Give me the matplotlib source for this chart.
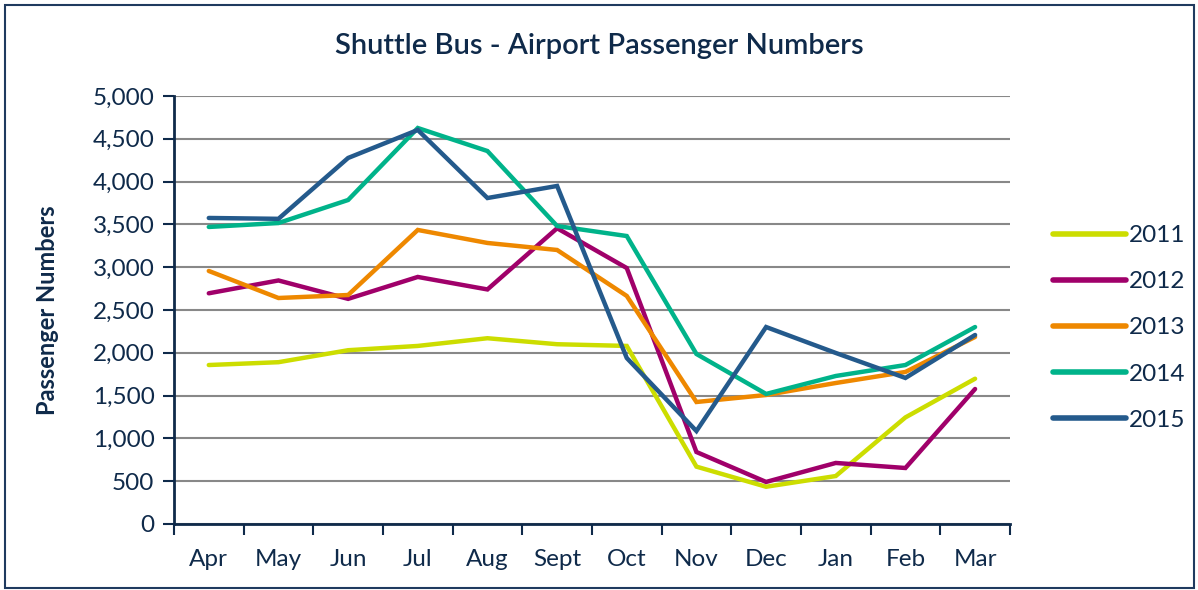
import matplotlib
matplotlib.use("Agg")
import matplotlib.pyplot as plt
from matplotlib.patches import Rectangle
from matplotlib.ticker import FuncFormatter, MultipleLocator

months = ["Apr", "May", "Jun", "Jul", "Aug", "Sept", "Oct", "Nov", "Dec", "Jan", "Feb", "Mar"]
years = ["2011", "2012", "2013", "2014", "2015"]
s2011 = [1857, 1890, 2030, 2080, 2170, 2100, 2080, 670, 435, 560, 1245, 1697]
s2012 = [2695, 2845, 2630, 2886, 2740, 3455, 2990, 841, 491, 713, 654, 1577]
s2013 = [2956, 2640, 2675, 3435, 3283, 3201, 2664, 1425, 1507, 1647, 1776, 2185]
s2014 = [3470, 3516, 3785, 4626, 4357, 3481, 3364, 1986, 1519, 1729, 1857, 2301]
s2015 = [3575, 3565, 4276, 4603, 3808, 3949, 1939, 1086, 2301, 1998, 1706, 2208]
series = [s2011, s2012, s2013, s2014, s2015]
colors = ["#CCDD00", "#A0006A", "#EE8800", "#00B38A", "#245A8C"]

navy = "#0F2A4A"
plt.rcParams['font.family'] = ['Lato', 'DejaVu Sans']

fig = plt.figure(figsize=(11.98, 5.90), dpi=100)
fig.patches.append(Rectangle((0.004, 0.004), 0.993, 0.988, transform=fig.transFigure,
                             fill=False, edgecolor="#1F3A5F", linewidth=1.5))
ax = fig.add_axes([0.1452, 0.1119, 0.6978, 0.7254])

x = list(range(len(months)))
for yr, vals, c in zip(years, series, colors):
    ax.plot(x, vals, color=c, linewidth=3.2, label=yr, solid_capstyle='round', solid_joinstyle='miter')

ax.set_xlim(-0.5, 11.5)
ax.set_ylim(0, 5000)
ax.yaxis.set_major_locator(MultipleLocator(500))
ax.yaxis.set_major_formatter(FuncFormatter(lambda v, p: f"{int(v):,}"))
ax.grid(axis='y', color="#888888", linewidth=1.5)
ax.set_axisbelow(True)
ax.set_xticks(x)
ax.set_xticklabels(months)
ax.set_xticks([i - 0.5 for i in range(13)], minor=True)
ax.tick_params(axis='x', which='major', length=0, pad=18, labelsize=17.5, labelcolor=navy)
ax.tick_params(axis='x', which='minor', length=8, width=1.5, color=navy, direction='out')
ax.tick_params(axis='y', length=8, width=1.5, color=navy, labelsize=17.5, labelcolor=navy, pad=6)
for s in ['top', 'right']:
    ax.spines[s].set_visible(False)
for s in ['left', 'bottom']:
    ax.spines[s].set_color(navy)
    ax.spines[s].set_linewidth(2)

ax.set_ylabel("Passenger Numbers", fontsize=17, fontweight='bold', color=navy, labelpad=24)
fig.text(0.5, 0.922, "Shuttle Bus - Airport Passenger Numbers", ha='center', va='center',
         fontsize=21, fontweight='semibold', color=navy)

leg = ax.legend(loc='center left', bbox_to_anchor=(1.025, 0.458), frameon=False, fontsize=17.5,
                handlelength=3.0, handletextpad=0.15, labelspacing=1.03, labelcolor=navy)
for h in leg.get_lines():
    h.set_linewidth(4)

fig.savefig("out.png", dpi=100)
